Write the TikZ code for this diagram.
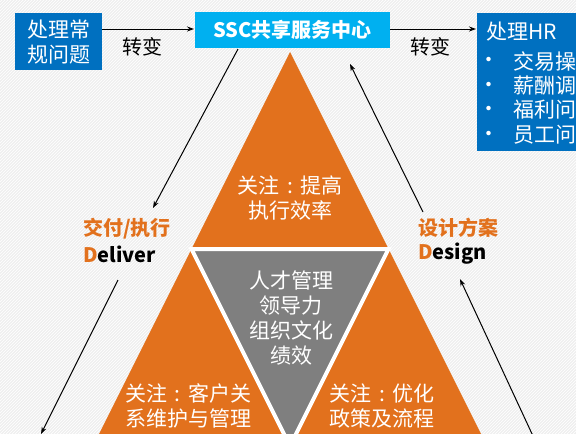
\documentclass[tikz,border=0pt]{standalone}
\usepackage{fontspec}
\newfontfamily\cjk{Noto Sans CJK SC}
\usetikzlibrary{arrows.meta,patterns}
\definecolor{bgc}{HTML}{EFEFEF}
\definecolor{dblue}{HTML}{0070C0}
\definecolor{lblue}{HTML}{00B0F0}
\definecolor{orng}{HTML}{E2711D}
\definecolor{gry}{HTML}{7F7F7F}
\newcommand{\zcolon}{\makebox[1em][c]{:}}
\tikzset{
  boxd/.style={fill=dblue, inner sep=0pt},
  boxl/.style={fill=lblue, inner sep=0pt},
  wtxt/.style={text=white, font=\cjk\fontsize{21}{25}\selectfont, align=center, inner sep=0pt},
  btxt/.style={text=black, font=\cjk\fontsize{20}{24}\selectfont, inner sep=0pt},
  lbl/.style={font=\cjk\bfseries\fontsize{20}{24}\selectfont, inner sep=0pt, anchor=west},
  conn/.style={-{Stealth[length=7pt,width=5pt]}, line width=1pt, black}
}
\begin{document}
\begin{tikzpicture}[x=1pt,y=-1pt]
\useasboundingbox (0,0) rectangle (576,434);
\clip (0,0) rectangle (576,434);
\fill[bgc] (0,0) rectangle (576,434);
\fill[pattern=north east lines, pattern color=white] (0,0) rectangle (576,434);

% pyramid
\coordinate (ta) at (290,52);
\coordinate (tb) at (93,446);
\coordinate (tc) at (487,446);
\coordinate (m1) at (191.5,249);
\coordinate (m2) at (388.5,249);
\coordinate (m3) at (290,446);
\fill[orng] (ta) -- (tb) -- (tc) -- cycle;
\fill[gry] (m1) -- (m2) -- (m3) -- cycle;
\draw[white, line width=4pt] (m1) -- (m2) -- (m3) -- cycle;

\node[wtxt] (t1) at (290,198) {关注\zcolon 提高\\执行效率};
\node[wtxt] (t2) at (291,318) {人才管理\\领导力\\组织文化\\绩效};
\node[wtxt] (t3) at (188,406) {关注\zcolon 客户关\\系维护与管理};
\node[wtxt] (t4) at (382,406) {关注\zcolon 优化\\政策及流程};

% top boxes
\node[boxd, minimum width=87pt, minimum height=57pt, anchor=north west] (b1) at (15,13) {};
\node[wtxt] (b1t) at (b1.center) {处理常\\规问题};
\node[boxl, minimum width=195pt, minimum height=36pt, anchor=north west] (ssc) at (195,12) {};
\node[wtxt, font=\cjk\bfseries\fontsize{20}{24}\selectfont] (ssct) at (ssc.center) {SSC共享服务中心};
\node[boxd, minimum width=110pt, minimum height=138pt, anchor=north west] (hr) at (477,13) {};
\node[wtxt, anchor=west] (hr0) at (486,32) {处理HR};
\node[wtxt, anchor=west] (hr1) at (513,61) {交易操};
\node[wtxt, anchor=west] (hr2) at (513,86) {薪酬调};
\node[wtxt, anchor=west] (hr3) at (513,110) {福利问};
\node[wtxt, anchor=west] (hr4) at (513,135) {员工问};
\foreach \yy/\nm in {62/d1,87/d2,111/d3,136/d4}
  \node[wtxt] (\nm) at (489,\yy) {•};

% horizontal connectors
\coordinate (b1r) at (102,29);
\coordinate (sscl) at (194,29);
\coordinate (sscr) at (390,29);
\coordinate (hrl) at (476,29);
\draw[conn] (b1r) -- (sscl);
\draw[conn] (sscr) -- (hrl);
\node[btxt] (z1) at (142,47) {转变};
\node[btxt] (z2) at (430,47) {转变};

% side labels
\node[lbl, text=orng] (dl1) at (83,229) {交付/执行};
\node[lbl, text=black] (dl2) at (83,254) {\textcolor{orng}{D}eliver};
\node[lbl, text=orng] (ds1) at (418,228) {设计方案};
\node[lbl, text=black] (ds2) at (418,254) {\textcolor{orng}{D}esign};

% diagonal connectors
\coordinate (p1) at (238,49);
\coordinate (p2) at (153,208);
\coordinate (p3) at (118,280);
\coordinate (p4) at (41,434);
\coordinate (q1) at (423,212);
\coordinate (q2) at (350,64);
\coordinate (q3) at (533,436);
\coordinate (q4) at (460,279);
\draw[conn] (p1) -- (p2);
\draw[conn] (p3) -- (p4);
\draw[conn] (q1) -- (q2);
\draw[conn] (q3) -- (q4);
\end{tikzpicture}
\end{document}
